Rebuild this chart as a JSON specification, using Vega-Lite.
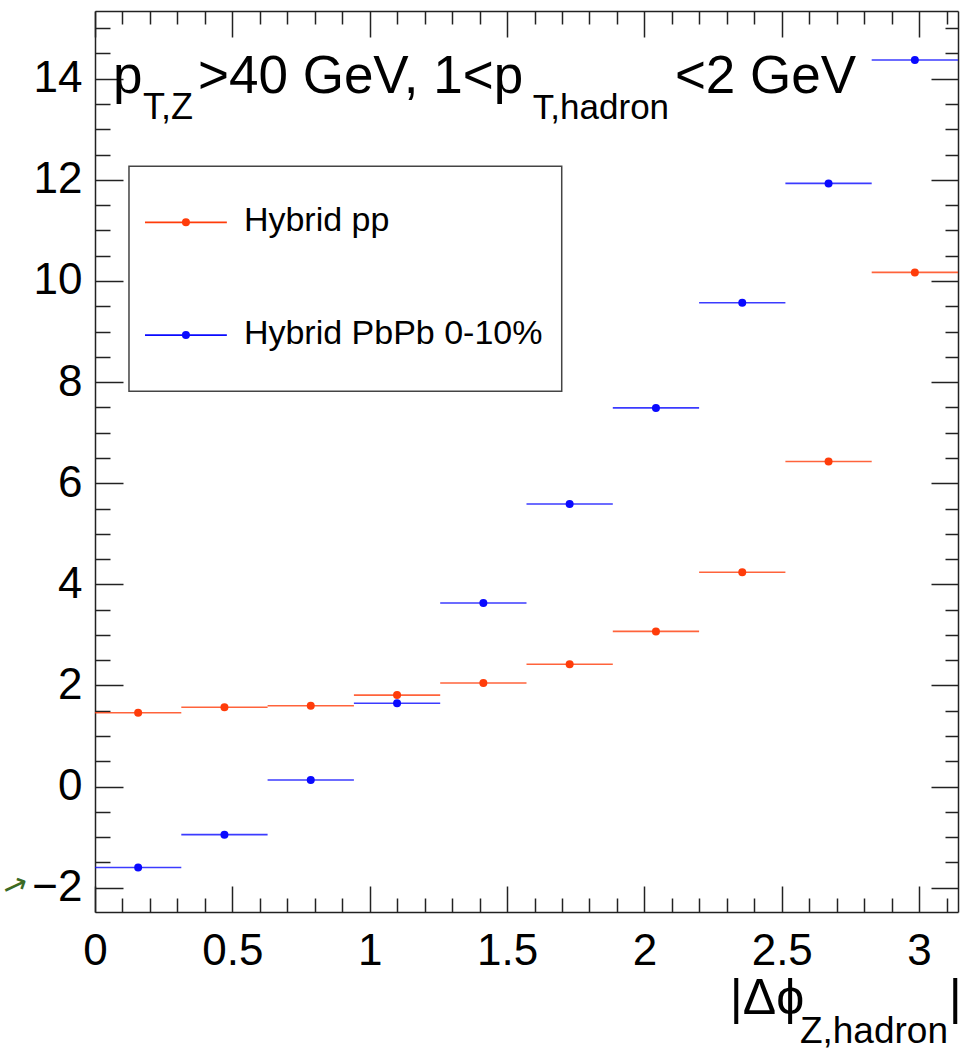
{
  "$schema": "https://vega.github.io/schema/vega-lite/v6.json",
  "width": 863,
  "height": 901,
  "autosize": {"type": "none"},
  "padding": {"left": 95, "top": 11, "right": 4, "bottom": 139},
  "background": "white",
  "config": {
    "view": {"stroke": null},
    "font": "Liberation Sans",
    "axis": {"grid": false, "title": null, "tickColor": "#222222", "tickWidth": 1.5, "domainColor": "#222222", "domainWidth": 1.5, "labelColor": "black", "labelFont": "Liberation Sans"}
  },
  "datasets": {
    "hist": [
      {"series": "Hybrid pp", "lo": 0.0, "hi": 0.31416, "phi": 0.15708, "val": 1.46},
      {"series": "Hybrid pp", "lo": 0.31416, "hi": 0.62832, "phi": 0.47124, "val": 1.57},
      {"series": "Hybrid pp", "lo": 0.62832, "hi": 0.94248, "phi": 0.7854, "val": 1.6},
      {"series": "Hybrid pp", "lo": 0.94248, "hi": 1.25664, "phi": 1.09956, "val": 1.81},
      {"series": "Hybrid pp", "lo": 1.25664, "hi": 1.5708, "phi": 1.41372, "val": 2.05},
      {"series": "Hybrid pp", "lo": 1.5708, "hi": 1.88496, "phi": 1.72788, "val": 2.42},
      {"series": "Hybrid pp", "lo": 1.88496, "hi": 2.19911, "phi": 2.04204, "val": 3.07},
      {"series": "Hybrid pp", "lo": 2.19911, "hi": 2.51327, "phi": 2.35619, "val": 4.24},
      {"series": "Hybrid pp", "lo": 2.51327, "hi": 2.82743, "phi": 2.67035, "val": 6.43},
      {"series": "Hybrid pp", "lo": 2.82743, "hi": 3.14159, "phi": 2.98451, "val": 10.17},
      {"series": "Hybrid PbPb 0-10%", "lo": 0.0, "hi": 0.31416, "phi": 0.15708, "val": -1.6},
      {"series": "Hybrid PbPb 0-10%", "lo": 0.31416, "hi": 0.62832, "phi": 0.47124, "val": -0.95},
      {"series": "Hybrid PbPb 0-10%", "lo": 0.62832, "hi": 0.94248, "phi": 0.7854, "val": 0.13},
      {"series": "Hybrid PbPb 0-10%", "lo": 0.94248, "hi": 1.25664, "phi": 1.09956, "val": 1.65},
      {"series": "Hybrid PbPb 0-10%", "lo": 1.25664, "hi": 1.5708, "phi": 1.41372, "val": 3.63},
      {"series": "Hybrid PbPb 0-10%", "lo": 1.5708, "hi": 1.88496, "phi": 1.72788, "val": 5.59},
      {"series": "Hybrid PbPb 0-10%", "lo": 1.88496, "hi": 2.19911, "phi": 2.04204, "val": 7.49},
      {"series": "Hybrid PbPb 0-10%", "lo": 2.19911, "hi": 2.51327, "phi": 2.35619, "val": 9.57},
      {"series": "Hybrid PbPb 0-10%", "lo": 2.51327, "hi": 2.82743, "phi": 2.67035, "val": 11.93},
      {"series": "Hybrid PbPb 0-10%", "lo": 2.82743, "hi": 3.14159, "phi": 2.98451, "val": 14.37}
    ]
  },
  "resolve": {"axis": {"x": "independent", "y": "independent"}},
  "layer": [
    {
      "data": {"name": "hist"},
      "mark": {"type": "rule", "strokeWidth": 1.6, "opacity": 0.8},
      "encoding": {
        "x": {"field": "lo", "type": "quantitative",
          "scale": {"domain": [0, 3.14159], "nice": false, "zero": false},
          "axis": {"orient": "bottom", "values": [0, 0.5, 1, 1.5, 2, 2.5, 3], "format": "~g", "ticks": false, "domain": true, "labelFontSize": 44, "labelPadding": 17, "labelFlush": false}},
        "x2": {"field": "hi"},
        "y": {"field": "val", "type": "quantitative",
          "scale": {"domain": [-2.48, 15.34], "nice": false, "zero": false},
          "axis": {"orient": "left", "values": [-2, 0, 2, 4, 6, 8, 10, 12, 14], "format": "~g", "ticks": false, "domain": true, "labelFontSize": 44, "labelPadding": 13, "labelFlush": false}},
        "color": {"field": "series", "type": "nominal", "scale": {"domain": ["Hybrid pp", "Hybrid PbPb 0-10%"], "range": ["#ff3c0a", "#0a0aff"]}, "legend": null}
      }
    },
    {
      "data": {"name": "hist"},
      "mark": {"type": "point", "filled": true, "size": 64, "opacity": 1},
      "encoding": {
        "x": {"field": "phi", "type": "quantitative",
          "axis": {"orient": "bottom", "values": [0, 0.5, 1, 1.5, 2, 2.5, 3], "labels": false, "domain": false, "tickSize": -26}},
        "y": {"field": "val", "type": "quantitative",
          "axis": {"orient": "left", "values": [-2, 0, 2, 4, 6, 8, 10, 12, 14], "labels": false, "domain": false, "tickSize": -28}},
        "color": {"field": "series", "type": "nominal", "legend": null}
      }
    },
    {
      "data": {"values": [{}]},
      "mark": {"type": "rect", "fill": "white", "stroke": "#444444", "strokeWidth": 1.5},
      "encoding": {
        "x": {"datum": 0.1237, "type": "quantitative",
          "axis": {"orient": "bottom", "values": [0.1, 0.2, 0.3, 0.4, 0.6, 0.7, 0.8, 0.9, 1.1, 1.2, 1.3, 1.4, 1.6, 1.7, 1.8, 1.9, 2.1, 2.2, 2.3, 2.4, 2.6, 2.7, 2.8, 2.9, 3.1], "labels": false, "domain": false, "tickSize": -14}},
        "x2": {"datum": 1.699},
        "y": {"datum": 12.27, "type": "quantitative",
          "axis": {"orient": "left", "values": [-1.5, -1, -0.5, 0.5, 1, 1.5, 2.5, 3, 3.5, 4.5, 5, 5.5, 6.5, 7, 7.5, 8.5, 9, 9.5, 10.5, 11, 11.5, 12.5, 13, 13.5, 14.5, 15], "labels": false, "domain": false, "tickSize": -15}},
        "y2": {"datum": 7.82}
      }
    },
    {
      "data": {"values": [{}]},
      "mark": {"type": "rule", "color": "#ff3c0a", "strokeWidth": 1.6},
      "encoding": {
        "x": {"datum": 0.182, "type": "quantitative",
          "axis": {"orient": "top", "values": [0, 0.5, 1, 1.5, 2, 2.5, 3], "labels": false, "domain": true, "tickSize": -26}},
        "x2": {"datum": 0.48},
        "y": {"datum": 11.16, "type": "quantitative",
          "axis": {"orient": "right", "values": [-2, 0, 2, 4, 6, 8, 10, 12, 14], "labels": false, "domain": true, "tickSize": -27}}
      }
    },
    {
      "data": {"values": [{}]},
      "mark": {"type": "rule", "color": "#0a0aff", "strokeWidth": 1.6},
      "encoding": {
        "x": {"datum": 0.182, "type": "quantitative",
          "axis": {"orient": "top", "values": [0.1, 0.2, 0.3, 0.4, 0.6, 0.7, 0.8, 0.9, 1.1, 1.2, 1.3, 1.4, 1.6, 1.7, 1.8, 1.9, 2.1, 2.2, 2.3, 2.4, 2.6, 2.7, 2.8, 2.9, 3.1], "labels": false, "domain": false, "tickSize": -13}},
        "x2": {"datum": 0.48},
        "y": {"datum": 8.93, "type": "quantitative",
          "axis": {"orient": "right", "values": [-1.5, -1, -0.5, 0.5, 1, 1.5, 2.5, 3, 3.5, 4.5, 5, 5.5, 6.5, 7, 7.5, 8.5, 9, 9.5, 10.5, 11, 11.5, 12.5, 13, 13.5, 14.5, 15], "labels": false, "domain": false, "tickSize": -13}}
      }
    },
    {
      "data": {"values": [{}]},
      "mark": {"type": "point", "filled": true, "size": 64, "color": "#ff3c0a", "opacity": 1},
      "encoding": {
        "x": {"datum": 0.331, "type": "quantitative", "axis": null},
        "y": {"datum": 11.16, "type": "quantitative", "axis": null}
      }
    },
    {
      "data": {"values": [{}]},
      "mark": {"type": "point", "filled": true, "size": 64, "color": "#0a0aff", "opacity": 1},
      "encoding": {
        "x": {"datum": 0.331, "type": "quantitative", "axis": null},
        "y": {"datum": 8.93, "type": "quantitative", "axis": null}
      }
    },
    {
      "data": {"values": [{}]},
      "mark": {"type": "text", "text": "Hybrid pp", "align": "left", "baseline": "alphabetic", "fontSize": 34, "color": "black"},
      "encoding": {
        "x": {"datum": 0.542, "type": "quantitative", "axis": null},
        "y": {"datum": 10.98, "type": "quantitative", "axis": null}
      }
    },
    {
      "data": {"values": [{}]},
      "mark": {"type": "text", "text": "Hybrid PbPb 0-10%", "align": "left", "baseline": "alphabetic", "fontSize": 34, "color": "black"},
      "encoding": {
        "x": {"datum": 0.542, "type": "quantitative", "axis": null},
        "y": {"datum": 8.76, "type": "quantitative", "axis": null}
      }
    },
    {
      "data": {"values": [{}]},
      "mark": {"type": "text", "text": "p", "align": "left", "baseline": "alphabetic", "fontSize": 53, "color": "black"},
      "encoding": {
        "x": {"datum": 0.0655, "type": "quantitative", "axis": null},
        "y": {"datum": 13.71, "type": "quantitative", "axis": null}
      }
    },
    {
      "data": {"values": [{}]},
      "mark": {"type": "text", "text": "T,Z", "align": "left", "baseline": "alphabetic", "fontSize": 36, "color": "black"},
      "encoding": {
        "x": {"datum": 0.1747, "type": "quantitative", "axis": null},
        "y": {"datum": 13.21, "type": "quantitative", "axis": null}
      }
    },
    {
      "data": {"values": [{}]},
      "mark": {"type": "text", "text": ">40 GeV, 1<p", "align": "left", "baseline": "alphabetic", "fontSize": 53, "color": "black"},
      "encoding": {
        "x": {"datum": 0.3751, "type": "quantitative", "axis": null},
        "y": {"datum": 13.71, "type": "quantitative", "axis": null}
      }
    },
    {
      "data": {"values": [{}]},
      "mark": {"type": "text", "text": "T,hadron", "align": "left", "baseline": "alphabetic", "fontSize": 35, "color": "black"},
      "encoding": {
        "x": {"datum": 1.594, "type": "quantitative", "axis": null},
        "y": {"datum": 13.2, "type": "quantitative", "axis": null}
      }
    },
    {
      "data": {"values": [{}]},
      "mark": {"type": "text", "text": "<2 GeV", "align": "left", "baseline": "alphabetic", "fontSize": 53, "color": "black"},
      "encoding": {
        "x": {"datum": 2.111, "type": "quantitative", "axis": null},
        "y": {"datum": 13.71, "type": "quantitative", "axis": null}
      }
    },
    {
      "data": {"values": [{}]},
      "mark": {"type": "text", "text": "|Δϕ", "align": "left", "baseline": "alphabetic", "fontSize": 50, "color": "black"},
      "encoding": {
        "x": {"datum": 2.311, "type": "quantitative", "axis": null},
        "y": {"datum": -4.5, "type": "quantitative", "axis": null}
      }
    },
    {
      "data": {"values": [{}]},
      "mark": {"type": "text", "text": "Z,hadron", "align": "left", "baseline": "alphabetic", "fontSize": 37, "color": "black"},
      "encoding": {
        "x": {"datum": 2.566, "type": "quantitative", "axis": null},
        "y": {"datum": -5.07, "type": "quantitative", "axis": null}
      }
    },
    {
      "data": {"values": [{}]},
      "mark": {"type": "text", "text": "|", "align": "left", "baseline": "alphabetic", "fontSize": 50, "color": "black"},
      "encoding": {
        "x": {"datum": 3.108, "type": "quantitative", "axis": null},
        "y": {"datum": -4.5, "type": "quantitative", "axis": null}
      }
    },
    {
      "data": {"values": [{}]},
      "mark": {"type": "text", "text": "→", "font": "DejaVu Sans", "align": "center", "baseline": "middle", "fontSize": 30, "angle": 335, "color": "#3b6a24"},
      "encoding": {
        "x": {"datum": -0.29, "type": "quantitative", "axis": null},
        "y": {"datum": -1.97, "type": "quantitative", "axis": null}
      }
    }
  ]
}
